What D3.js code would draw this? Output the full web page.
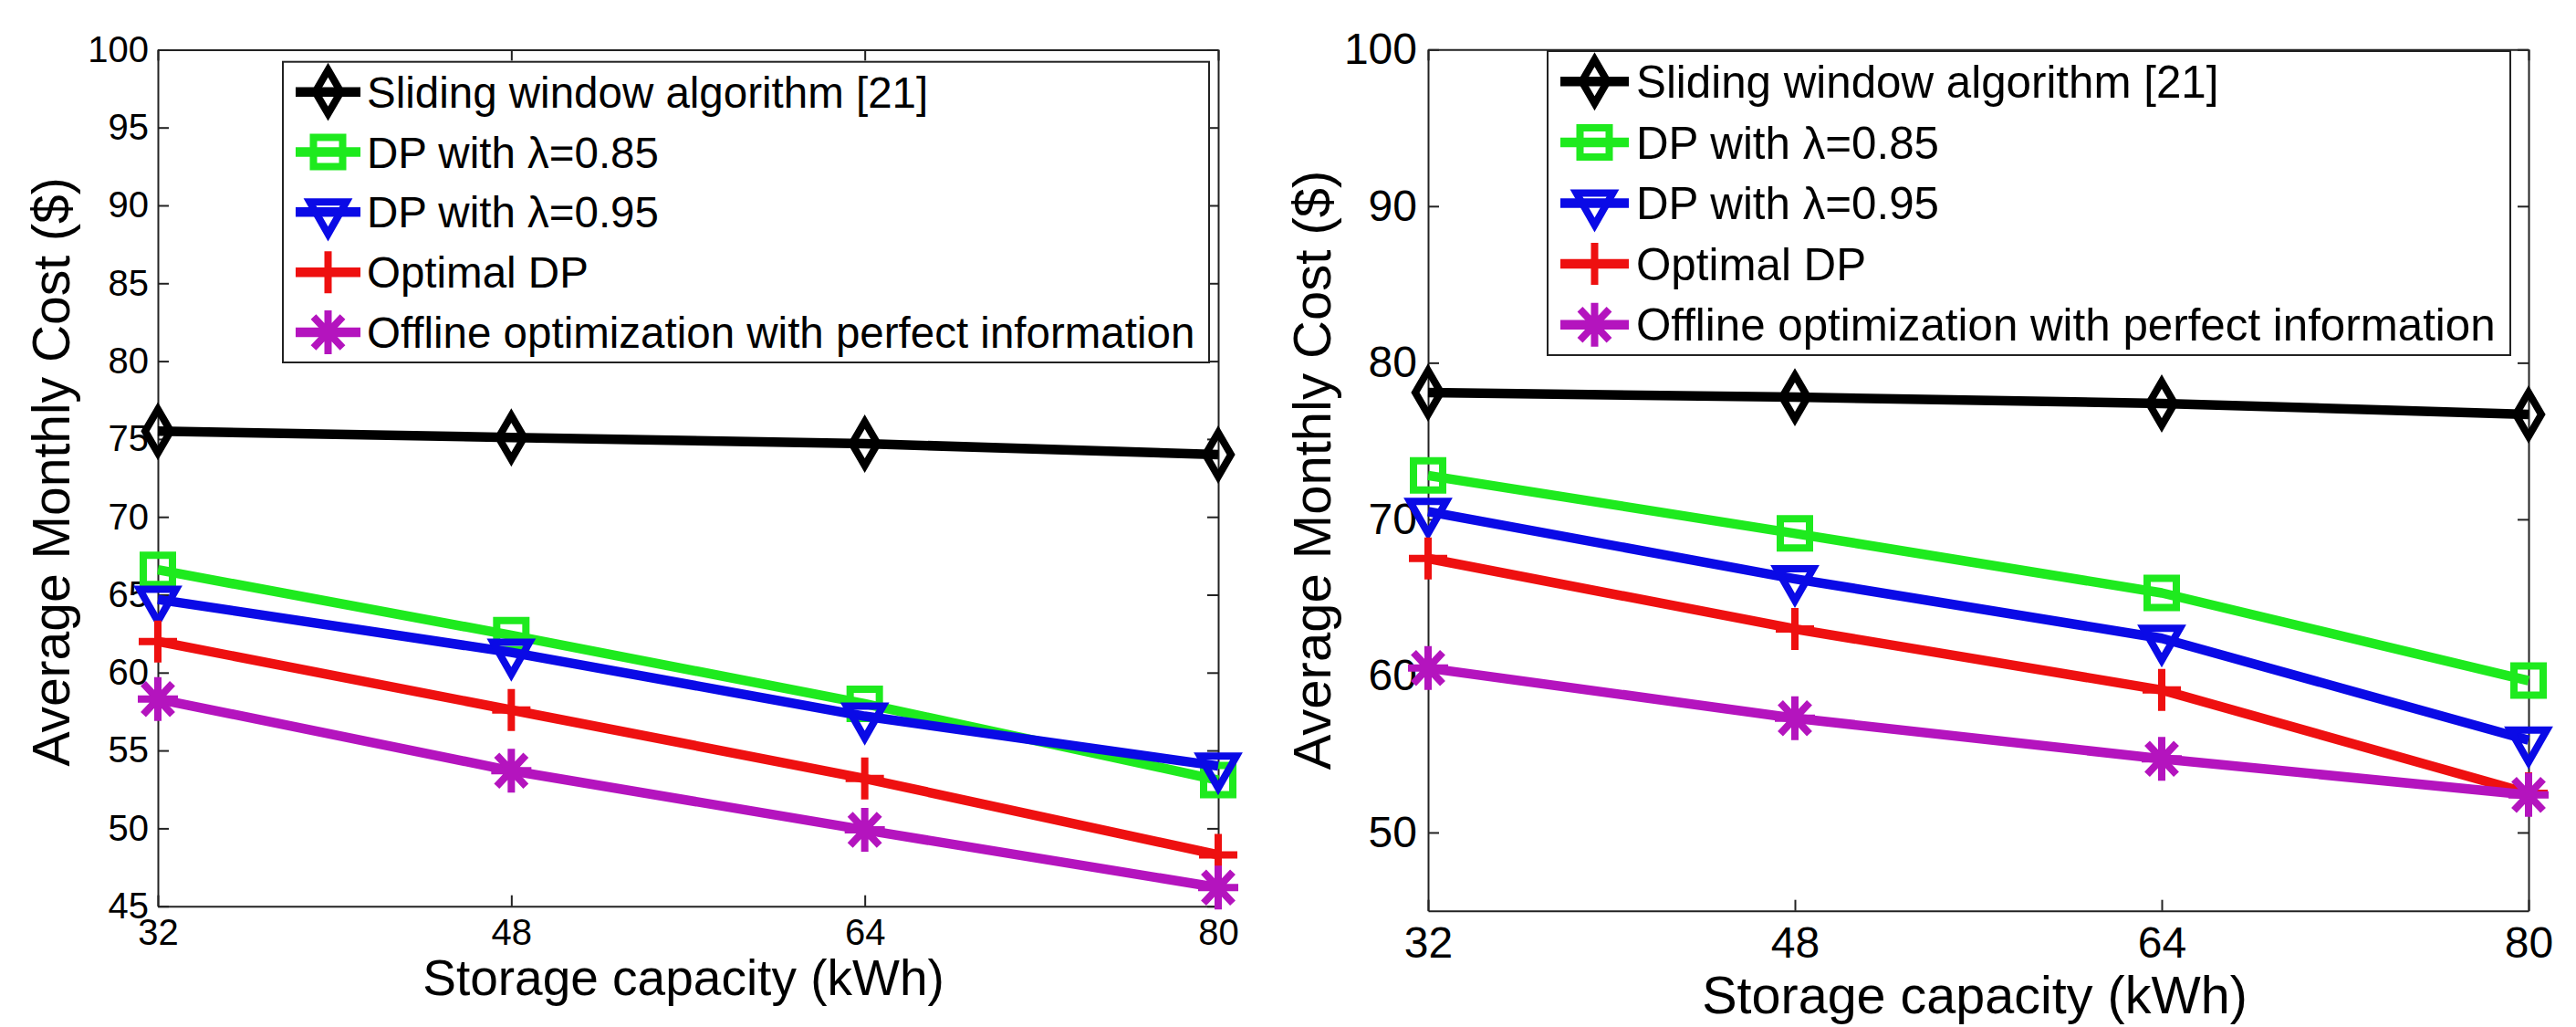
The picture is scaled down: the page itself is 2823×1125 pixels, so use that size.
<!DOCTYPE html>
<html lang="en">
<head>
<meta charset="UTF-8">
<script src="https://cdn.jsdelivr.net/npm/d3@7"></script>
<title>Average monthly cost vs storage capacity</title>
<style>
  body { margin: 0; background: #fff; }
  text { font-family: "Liberation Sans", Arial, Helvetica, sans-serif; fill: #000; }
</style>
</head>
<body>
<svg width="2823" height="1125"></svg>
<script>
// storage capacity (kWh) on the x axis
const capacities = [32, 48, 64, 80];
const seriesNames = [
  'Sliding window algorithm [21]',
  'DP with \u03bb=0.85',
  'DP with \u03bb=0.95',
  'Optimal DP',
  'Offline optimization with perfect information'
];
const leftYTicks = [45, 50, 55, 60, 65, 70, 75, 80, 85, 90, 95, 100];
const rightYTicks = [50, 60, 70, 80, 90, 100];

// left figure: average monthly cost ($)
const leftSliding = [75.5, 75.1, 74.7, 74.0];
const leftDp085   = [66.6, 62.4, 58.0, 53.1];
const leftDp095   = [64.7, 61.3, 57.2, 54.0];
const leftOptimal = [62.0, 57.6, 53.2, 48.3];
const leftOffline = [58.3, 53.7, 49.9, 46.2];

// right figure
const rightSliding = [78.1, 77.8, 77.4, 76.7];
const rightDp085   = [72.8, 69.1, 65.3, 59.7];
const rightDp095   = [70.5, 66.2, 62.4, 55.9];
const rightOptimal = [67.5, 63.0, 59.1, 52.5];
const rightOffline = [60.5, 57.3, 54.7, 52.4];

const styles = [
  {color: '#000000', marker: 'diamond'},
  {color: '#1eea1e', marker: 'square'},
  {color: '#0a0ae6', marker: 'triangle'},
  {color: '#ee1010', marker: 'plus'},
  {color: '#b414be', marker: 'star'}
];

const markerPaths = {
  diamond: 'M0,-24L14,0L0,24L-14,0Z',
  square: 'M-16,-16H16V16H-16Z',
  triangle: 'M-20,-11L20,-11L0,24Z',
  plus: 'M-21,0H21M0,-23V23',
  star: 'M-22,0H22M0,-24V24M-16,-17L16,17M-16,17L16,-17'
};

const panels = [
  {
    series: [leftSliding, leftDp085, leftDp095, leftOptimal, leftOffline],
    yTicks: leftYTicks,
    x0: 173, x1: 1335, y0: 54.4, y1: 992.7,
    tickFont: 40, xPad: 14, yPad: 10,
    legend: {x: 310, y: 67.7, w: 1015, h: 329.3, s0: 324, s1: 395, tx: 402, font: 47.5},
    xTitle: {x: 749, y: 1090, font: 55},
    yTitle: {x: 76, y: 517, font: 57}
  },
  {
    series: [rightSliding, rightDp085, rightDp095, rightOptimal, rightOffline],
    yTicks: rightYTicks,
    x0: 1565, x1: 2771, y0: 54.3, y1: 997.7,
    tickFont: 48, xPad: 17, yPad: 12,
    legend: {x: 1696, y: 56, w: 1055, h: 333, s0: 1710, s1: 1785, tx: 1793, font: 49.3},
    xTitle: {x: 2164, y: 1110, font: 57.5},
    yTitle: {x: 1458, y: 515, font: 58}
  }
];

const svg = d3.select('svg');

function drawMarker(g, type, color, x, y) {
  g.append('path')
    .attr('d', markerPaths[type])
    .attr('transform', `translate(${x},${y})`)
    .attr('fill', 'none')
    .attr('stroke', color)
    .attr('stroke-width', 8)
    .attr('stroke-linejoin', 'miter');
}

panels.forEach(p => {
  const x = d3.scaleLinear().domain([32, 80]).range([p.x0, p.x1]);
  const y = d3.scaleLinear().domain([45, 100]).range([p.y1, p.y0]);
  const g = svg.append('g');

  // frame with inward ticks on all four sides
  const axes = [
    {ax: d3.axisBottom(x).tickValues(capacities).tickPadding(p.xPad), t: `translate(0,${p.y1})`},
    {ax: d3.axisLeft(y).tickValues(p.yTicks).tickPadding(p.yPad), t: `translate(${p.x0},0)`},
    {ax: d3.axisTop(x).tickValues(capacities).tickFormat(''), t: `translate(0,${p.y0})`},
    {ax: d3.axisRight(y).tickValues(p.yTicks).tickFormat(''), t: `translate(${p.x1},0)`}
  ];
  axes.forEach(a => {
    const ag = g.append('g').attr('transform', a.t)
      .call(a.ax.tickSizeInner(-12).tickSizeOuter(0));
    ag.select('.domain').attr('stroke', '#222').attr('stroke-width', 2);
    ag.selectAll('.tick line').attr('stroke', '#222').attr('stroke-width', 2);
    ag.selectAll('.tick text')
      .style('font-family', '"Liberation Sans", Arial, sans-serif')
      .attr('font-size', p.tickFont).attr('fill', '#000');
  });

  // series lines and markers
  const line = d3.line().x((d, i) => x(capacities[i])).y(d => y(d));
  p.series.forEach((vals, si) => {
    const st = styles[si];
    g.append('path').datum(vals)
      .attr('d', line)
      .attr('fill', 'none')
      .attr('stroke', st.color)
      .attr('stroke-width', 10.5)
      .attr('stroke-linejoin', 'round');
    vals.forEach((v, i) => drawMarker(g, st.marker, st.color, x(capacities[i]), y(v)));
  });

  // legend
  const L = p.legend;
  g.append('rect')
    .attr('x', L.x).attr('y', L.y).attr('width', L.w).attr('height', L.h)
    .attr('fill', '#fff').attr('stroke', '#222').attr('stroke-width', 2);
  seriesNames.forEach((name, i) => {
    const cy = L.y + L.h / 10 + i * L.h / 5;
    const st = styles[i];
    g.append('line')
      .attr('x1', L.s0).attr('x2', L.s1).attr('y1', cy).attr('y2', cy)
      .attr('stroke', st.color).attr('stroke-width', 10.5);
    drawMarker(g, st.marker, st.color, (L.s0 + L.s1) / 2, cy);
    g.append('text')
      .attr('x', L.tx).attr('y', cy + L.font * 0.36)
      .attr('font-size', L.font)
      .text(name);
  });

  // axis titles
  g.append('text')
    .attr('x', p.xTitle.x).attr('y', p.xTitle.y)
    .attr('text-anchor', 'middle')
    .attr('font-size', p.xTitle.font)
    .text('Storage capacity (kWh)');
  g.append('text')
    .attr('transform', `translate(${p.yTitle.x},${p.yTitle.y}) rotate(-90)`)
    .attr('text-anchor', 'middle')
    .attr('font-size', p.yTitle.font)
    .text('Average Monthly Cost ($)');
});
</script>
</body>
</html>
